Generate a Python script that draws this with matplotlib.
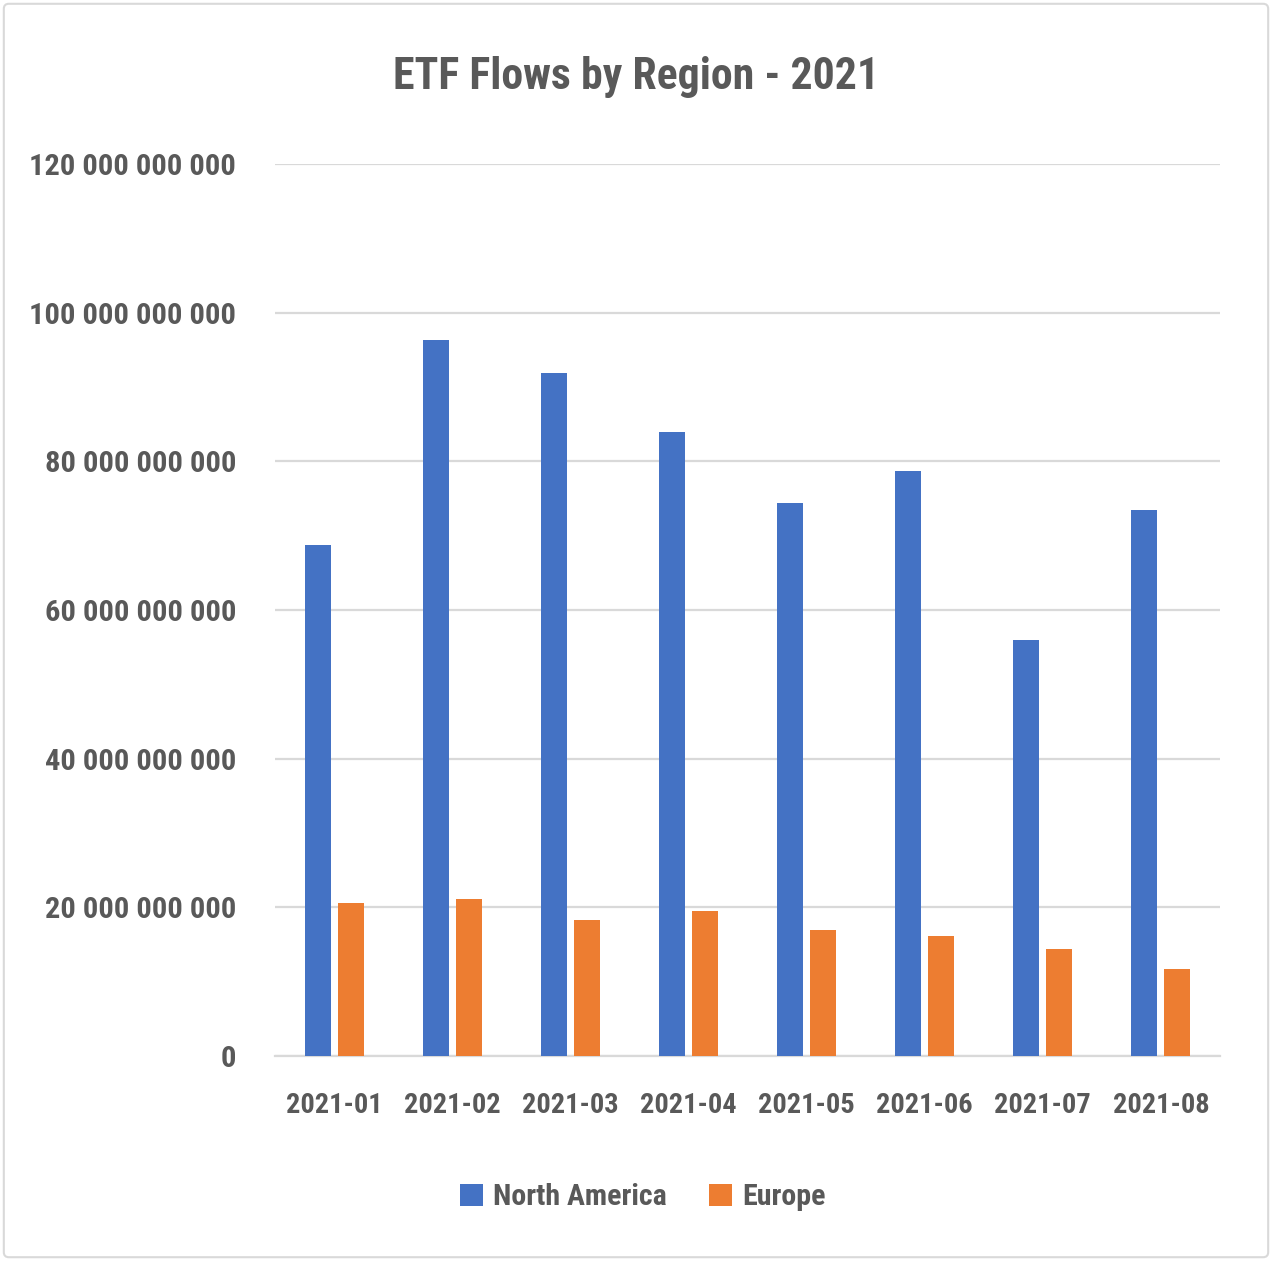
import matplotlib
matplotlib.use("Agg")
import matplotlib.pyplot as plt
from matplotlib import font_manager
from matplotlib.patches import FancyBboxPatch
import numpy as np

# data
months = ["2021-01", "2021-02", "2021-03", "2021-04", "2021-05", "2021-06", "2021-07", "2021-08"]
north_america = [68.7e9, 96.3e9, 91.9e9, 83.9e9, 74.4e9, 78.7e9, 56.0e9, 73.5e9]
europe = [20.6e9, 21.1e9, 18.3e9, 19.5e9, 17.0e9, 16.1e9, 14.4e9, 11.7e9]
y_ticks = [0, 20e9, 40e9, 60e9, 80e9, 100e9, 120e9]

BLUE = "#4472C4"
ORANGE = "#ED7D31"
TEXT = "#595959"
GRID = "#D9D9D9"

# pick a narrow font if there is one, else Roboto
names = {f.name for f in font_manager.fontManager.ttflist}
narrow = [n for n in ["Roboto Condensed", "Liberation Sans Narrow", "DejaVu Sans Condensed",
                      "Open Sans Condensed"] if n in names]
if narrow:
    FONT = dict(family=narrow[0], weight="bold")
    scale = 1.2
else:
    FONT = dict(family="Roboto", weight="bold")
    scale = 1.0


def fmt(v):
    return "{:,}".format(int(v)).replace(",", " ")


fig = plt.figure(figsize=(12.72, 12.61), dpi=100)
ax = fig.add_axes([275 / 1272, 205 / 1261, 945 / 1272, 892 / 1261])

x = np.arange(len(months))
w = 0.22
off = 0.14
ax.bar(x - off, north_america, w, color=BLUE, label="North America", zorder=3)
ax.bar(x + off, europe, w, color=ORANGE, label="Europe", zorder=3)

ax.set_xlim(-0.5, len(months) - 0.5)
ax.set_ylim(0, 120e9)
ax.set_yticks(y_ticks)
ax.set_yticklabels([fmt(v) for v in y_ticks], color=TEXT, fontsize=18.3 * scale, **FONT)
ax.set_xticks(x)
ax.set_xticklabels(months, color=TEXT, fontsize=17 * scale, **FONT)
ax.tick_params(axis="y", length=0, pad=28)
ax.tick_params(axis="x", length=0, pad=26)
ax.grid(axis="y", color=GRID, linewidth=1.6, zorder=0)
for s in ["top", "right", "left"]:
    ax.spines[s].set_visible(False)
ax.spines["bottom"].set_color(GRID)
ax.spines["bottom"].set_linewidth(1.6)

fig.text(0.5, 1 - 77 / 1261, "ETF Flows by Region - 2021", ha="center", va="center",
         color=TEXT, fontsize=26.3 * scale, **FONT)

leg = fig.legend(loc="center", bbox_to_anchor=(643 / 1272, 1 - 1197 / 1261), ncol=2, frameon=False,
                 handlelength=0.75, handleheight=0.75, handletextpad=0.35, columnspacing=1.4,
                 prop=font_manager.FontProperties(size=18 * scale, **FONT))
for t in leg.get_texts():
    t.set_color(TEXT)

# light border around the whole picture
fig.patches.append(FancyBboxPatch((0.003, 0.003), 0.994, 0.994, boxstyle="round,pad=0,rounding_size=0.004",
                                  transform=fig.transFigure, fill=False, edgecolor=GRID, linewidth=1.5))

fig.savefig("out.png", dpi=100)
